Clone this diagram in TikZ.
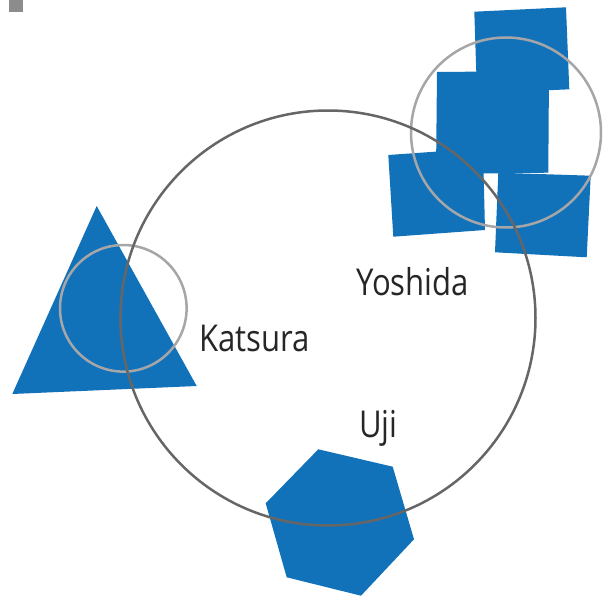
\documentclass[tikz,border=0pt]{standalone}
\usepackage{fontspec}
\setmainfont[FakeStretch=0.84]{Open Sans}
\definecolor{shapeblue}{RGB}{17,114,185}
\definecolor{bigring}{RGB}{102,102,102}
\definecolor{smallring}{RGB}{166,166,168}
\definecolor{marker}{RGB}{140,140,140}
\begin{document}
\begin{tikzpicture}[x=1pt,y=-1pt,
  blueshape/.style={fill=shapeblue,draw=none},
  bigcircle/.style={draw=bigring,line width=2.5pt},
  smallcircle/.style={draw=smallring,line width=2.5pt},
  label/.style={font=\fontsize{37}{40}\selectfont,text=black!85,inner sep=0pt,anchor=base west}]
\useasboundingbox (0,0) rectangle (606,597);
% corner marker
\fill[marker] (9,0) rectangle (23,12);
% squares
\fill[blueshape] (474.3,11.7) -- (566,7.3) -- (569.3,89.3) -- (477,93.5) -- cycle;
\fill[blueshape] (437,72) -- (549,71) -- (548.3,172.7) -- (436,174) -- cycle;
\fill[blueshape] (388.3,155) -- (483,148.3) -- (485,230) -- (393.3,236.7) -- cycle;
\fill[blueshape] (498.3,172.7) -- (590.7,175.7) -- (586.7,257.3) -- (495,252.3) -- cycle;
% triangle
\fill[blueshape] (96.7,206) -- (196.7,386) -- (12.3,394) -- cycle;
% hexagon
\fill[blueshape] (318.3,449.3) -- (392.7,466.7) -- (414,539.3) -- (361,595.7) -- (286.7,577.3) -- (265.7,503.3) -- cycle;
% circles
\node[smallcircle,circle,minimum size=190pt,inner sep=0pt] (ringNE) at (506,132.5) {};
\node[smallcircle,circle,minimum size=126.6pt,inner sep=0pt] (ringW) at (123.3,308.3) {};
\node[bigcircle,circle,minimum size=415pt,inner sep=0pt] (campus) at (328,318) {};
% labels
\node[label] (yoshida) at (356,295) {Yoshida};
\node[label] (katsura) at (199,351.5) {Katsura};
\node[label] (uji) at (359,437.3) {Uji};
\end{tikzpicture}
\end{document}
